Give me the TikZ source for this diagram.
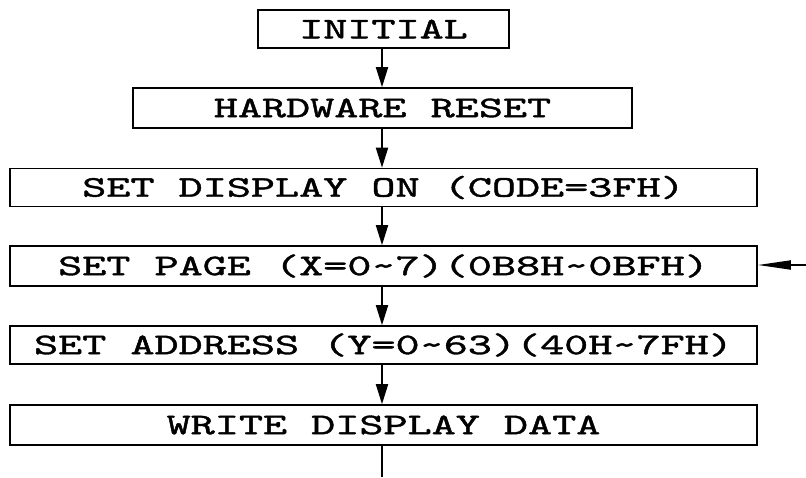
\documentclass[tikz,border=0pt]{standalone}
\usepackage{graphicx}
\usepackage{fontspec}
\usetikzlibrary{arrows.meta}
\newfontfamily\cadfont[FakeBold=1.1]{lmmono10-regular.otf}
\newcommand\cadtext[1]{\scalebox{1.53}[1]{\fontsize{30}{30}\selectfont\cadfont #1}}
\begin{document}
\begin{tikzpicture}[x=1pt,y=1pt,
  flowbox/.style={draw, line width=1.6pt, minimum height=38pt, inner sep=0pt, anchor=center},
  flowarrow/.style={line width=1.8pt, -{Triangle[length=20pt,width=12pt]}},
  sidearrow/.style={line width=1.8pt, -{Triangle[length=33pt,width=9pt]}},
  plainline/.style={line width=1.8pt}]
\useasboundingbox (0,0) rectangle (806,-477);
\node[flowbox, minimum width=251pt] (init) at (383.5,-29) {\cadtext{INITIAL}};
\node[flowbox, minimum width=499pt, minimum height=40pt] (hw) at (382.5,-108) {\cadtext{HARDWARE RESET}};
\node[flowbox, minimum width=747pt] (disp) at (383.5,-187.5) {\cadtext{SET DISPLAY ON (CODE=3FH)}};
\node[flowbox, minimum width=747pt, minimum height=40pt] (page) at (383.5,-266) {\cadtext{SET PAGE (X=0\textasciitilde7)(0B8H\textasciitilde0BFH)}};
\node[flowbox, minimum width=747pt] (addr) at (383.5,-345) {\cadtext{SET ADDRESS (Y=0\textasciitilde63)(40H\textasciitilde7FH)}};
\node[flowbox, minimum width=747pt, minimum height=40pt] (write) at (383.5,-425) {\cadtext{WRITE DISPLAY DATA}};
\coordinate (loopin) at (806,-265);
\coordinate (loopout) at (382,-477);
\draw[flowarrow] (init.south -| 382,0) -- (hw.north -| 382,0);
\draw[flowarrow] (hw.south -| 382,0) -- (disp.north -| 382,0);
\draw[flowarrow] (disp.south -| 382,0) -- (page.north -| 382,0);
\draw[flowarrow] (page.south -| 382,0) -- (addr.north -| 382,0);
\draw[flowarrow] (addr.south -| 382,0) -- (write.north -| 382,0);
\draw[plainline] (write.south -| 382,0) -- (loopout);
\draw[sidearrow] (loopin) -- (page.east |- loopin);
\end{tikzpicture}
\end{document}
